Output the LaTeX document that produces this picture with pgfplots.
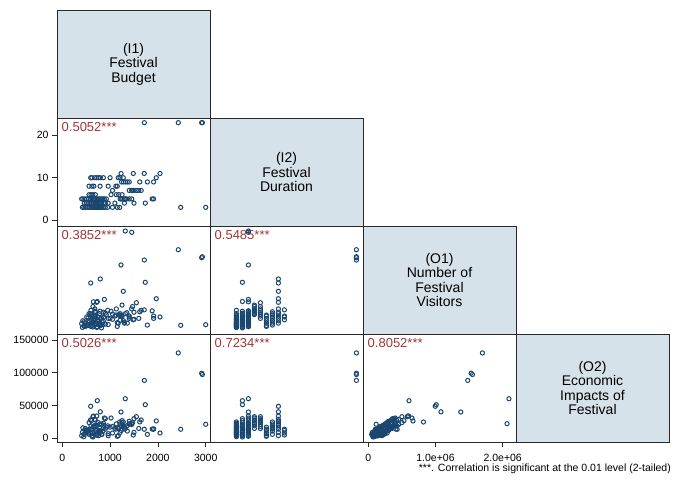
\documentclass[border=0pt]{standalone}
\usepackage{fontspec}
\setmainfont{Liberation Sans}
\usepackage{pgfplots}
\pgfplotsset{compat=1.18}
\usepackage{pgfplotstable}
\definecolor{mk}{RGB}{26,71,111}
\definecolor{diagfill}{RGB}{214,226,233}
\definecolor{corr}{RGB}{165,52,52}
\definecolor{frm}{RGB}{40,40,40}

\pgfplotstableread{
B D V E
420 3 60000 9000
450 3 90000 2500
480 3 150000 15000
520 3 120000 12000
560 3 200000 6000
600 3 80000 7000
630 3 250000 9000
650 3 170000 18000
680 3 110000 10000
700 3 300000 12000
720 3 60000 5000
740 3 220000 20000
760 3 140000 4000
780 3 350000 16000
800 3 100000 11000
830 3 190000 6000
860 3 270000 23000
900 3 130000 14000
950 3 420000 19000
1050 3 230000 8000
1150 3 160000 16000
1200 3 310000 25000
2477 3 104000 13800
3000 3 117000 21400
460 4 180000 6000
500 4 90000 10000
540 4 260000 11000
580 4 130000 14000
610 4 330000 27000
640 4 70000 2000
660 4 210000 18000
690 4 400000 20000
710 4 150000 5000
750 4 280000 24000
770 4 110000 12000
800 4 240000 9000
820 4 50000 6000
860 4 190000 16000
900 4 360000 30000
960 4 120000 4000
1100 4 300000 15000
1300 4 170000 18000
1500 4 230000 9000
732 4 606000 57500
1736 4 1011000 51400
405 5 140000 4000
430 5 200000 16000
470 5 80000 8000
510 5 280000 13000
550 5 160000 12000
590 5 350000 28000
620 5 100000 3000
650 5 600000 34000
680 5 230000 19000
700 5 310000 14000
730 5 75000 6000
760 5 190000 8000
790 5 400000 22000
820 5 260000 21000
850 5 120000 11000
880 5 650000 31000
920 5 330000 17000
1210 5 210000 9000
1250 5 290000 24000
1300 5 150000 14000
1350 5 370000 19000
1400 5 250000 22000
1880 5 410000 14000
1910 5 300000 14200
1318 5 2093000 60500
1452 5 2065000 22300
1228 5 1376000 40200
560 6 350000 24000
600 6 420000 19000
640 6 500000 33000
690 6 380000 28000
1130 6 450000 22000
1180 6 330000 15000
1250 6 530000 27000
1020 6 400000 31000
1400 7 300000 26000
1450 7 450000 21000
1500 7 380000 30000
1550 7 580000 33000
1600 7 250000 15000
1650 7 420000 28000
1050 7 340000 18000
1470 7 500000 24000
560 8 100000 8000
620 8 200000 4000
660 8 300000 17000
790 8 150000 12000
960 8 250000 7000
1120 8 320000 14000
1150 8 80000 3000
1280 9 200000 17000
1320 9 350000 15000
1360 9 150000 11000
1400 9 280000 22000
1620 9 390000 25000
1780 9 110000 6000
1910 9 250000 14000
1240 9 320000 19000
620 10 300000 14000
680 10 450000 29000
720 10 589000 34000
760 10 200000 9000
860 10 380000 20000
1000 10 250000 17000
1170 10 150000 4000
1207 10 350000 22000
594 10 996000 48900
795 10 1081000 40500
1276 10 821000 24900
1966 10 665000 26500
1230 11 300000 12000
1485 11 220000 5000
2044 11 280000 8000
1714 11 430000 13800
2427 23 1698000 130500
2916 23 1530000 99500
2930 23 1550000 97500
1716 23 1480000 88500
}\data

\pgfplotsset{
  cell/.style={scale only axis, width=153pt, height=108pt, anchor=south west,
    axis line style={frm, line width=0.9pt},
    xtick=\empty, ytick=\empty,
    tick style={frm, line width=0.8pt},
    tick align=outside, major tick length=5pt,
    xtick pos=bottom, ytick pos=left,
    tick label style={font=\fontsize{10.5}{12}\selectfont},
    /pgf/number format/assume math mode=true,
    scaled ticks=false},
  diag/.style={cell, axis background/.style={fill=diagfill},
    xmin=0, xmax=1, ymin=0, ymax=1},
  bud/.style={xmin=-111, xmax=3090},
  durx/.style={xmin=-1.4, xmax=24.1},
  dury/.style={ymin=-1.4, ymax=24.1},
  visx/.style={xmin=-79000, xmax=2198000},
  visy/.style={ymin=-79000, ymax=2198000},
  impy/.style={ymin=-5700, ymax=159500},
  pts/.style={only marks, mark=o, mark size=2.1pt, draw=mk, mark options={draw=mk, line width=1pt}},
  xlab/.style={xticklabel style={yshift=-4pt}},
}
\newcommand{\corr}[1]{\node[anchor=north west, text=corr, inner sep=0pt,
  font=\fontsize{13}{15}\selectfont] at (rel axis cs:0,1) [xshift=4.5pt, yshift=-4pt] {#1};}
\newcommand{\dlab}[1]{\node[align=center, inner sep=0pt,
  font=\fontsize{14}{14.5}\selectfont] at (rel axis cs:0.5,0.5) {#1};}

\begin{document}
\begin{tikzpicture}[x=1pt,y=1pt]
\path[use as bounding box] (0,0) rectangle (673,485);

% diagonal
\begin{axis}[diag, at={(57pt,367pt)}]
\dlab{(I1)\\Festival\\Budget}
\end{axis}
\begin{axis}[diag, at={(210pt,259pt)}]
\dlab{(I2)\\Festival\\Duration}
\end{axis}
\begin{axis}[diag, at={(363pt,151pt)}]
\dlab{(O1)\\Number of\\Festival\\Visitors}
\end{axis}
\begin{axis}[diag, at={(516pt,43pt)}]
\dlab{(O2)\\Economic\\Impacts of\\Festival}
\end{axis}

% row 2: duration vs budget
\begin{axis}[cell, bud, dury, at={(57pt,259pt)}, ytick={0,10,20}, yticklabels={0,10,20}]
\addplot[pts] table[x=B, y=D] {\data};
\corr{0.5052***}
\end{axis}

% row 3: visitors
\begin{axis}[cell, bud, visy, at={(57pt,151pt)}]
\addplot[pts] table[x=B, y=V] {\data};
\corr{0.3852***}
\end{axis}
\begin{axis}[cell, durx, visy, at={(210pt,151pt)}]
\addplot[pts] table[x=D, y=V] {\data};
\corr{0.5485***}
\end{axis}

% row 4: impact
\begin{axis}[cell, bud, impy, at={(57pt,43pt)}, xlab,
  ytick={0,50000,100000,150000}, yticklabels={0,50000,100000,150000},
  xtick={0,1000,2000,3000}, xticklabels={0,1000,2000,3000}]
\addplot[pts] table[x=B, y=E] {\data};
\corr{0.5026***}
\end{axis}
\begin{axis}[cell, durx, impy, at={(210pt,43pt)}]
\addplot[pts] table[x=D, y=E] {\data};
\corr{0.7234***}
\end{axis}
\begin{axis}[cell, visx, impy, at={(363pt,43pt)}, xlab,
  xtick={0,1000000,2000000}, xticklabels={0,1.0e+06,2.0e+06}]
\addplot[pts] table[x=V, y=E] {\data};
\corr{0.8052***}
\end{axis}

\node[anchor=base east, inner sep=0pt, font=\fontsize{10.5}{12}\selectfont]
  at (671,13) {***. Correlation is significant at the 0.01 level (2-tailed)};
\end{tikzpicture}
\end{document}
